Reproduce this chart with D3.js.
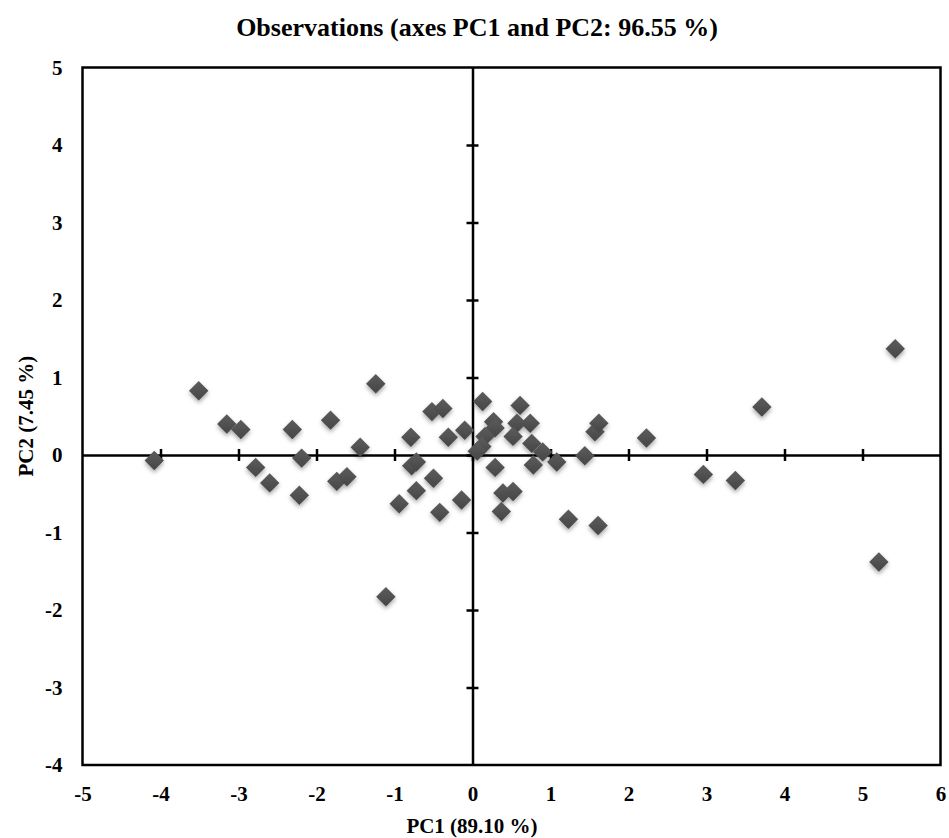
<!DOCTYPE html>
<html>
<head>
<meta charset="utf-8">
<script src="https://cdn.jsdelivr.net/npm/d3@7"></script>
<style>
  html, body { margin: 0; padding: 0; background: #fff; }
  svg { display: block; }
  text { font-family: "Liberation Serif", "Times New Roman", serif; font-weight: bold; fill: #000; }
</style>
</head>
<body>
<svg id="chart" width="949" height="838"></svg>
<script>
// PCA observation scores on the first two components
const pc1 = [-4.08, -3.51, -3.15, -2.97, -2.78, -2.60, -2.31, -2.19, -2.22, -1.82,
             -1.44, -1.24, -1.74, -1.61, -0.94, -1.11, -0.79, -0.52, -0.38, -0.31,
             -0.10, -0.78, -0.72, -0.50, -0.72, -0.42, -0.14, 0.13, 0.61, 0.27,
             0.29, 0.57, 0.74, 0.52, 0.16, 0.12, 0.06, 0.76, 0.90, 0.78,
             1.08, 0.29, 0.39, 0.52, 0.37, 1.23, 1.61, 1.44, 1.57, 1.62,
             2.23, 2.96, 3.37, 3.71, 5.42, 5.21];
const pc2 = [-0.07, 0.83, 0.40, 0.33, -0.16, -0.36, 0.33, -0.04, -0.52, 0.45,
             0.10, 0.92, -0.34, -0.28, -0.63, -1.83, 0.23, 0.56, 0.60, 0.23,
             0.32, -0.14, -0.09, -0.30, -0.46, -0.74, -0.58, 0.69, 0.64, 0.43,
             0.35, 0.41, 0.41, 0.24, 0.24, 0.11, 0.05, 0.15, 0.04, -0.13,
             -0.09, -0.16, -0.49, -0.47, -0.73, -0.83, -0.91, -0.01, 0.30, 0.41,
             0.22, -0.25, -0.33, 0.62, 1.37, -1.38];
const xTicks = [-5, -4, -3, -2, -1, 0, 1, 2, 3, 4, 5, 6];
const yTicks = [-4, -3, -2, -1, 0, 1, 2, 3, 4, 5];
const titleText = "Observations (axes PC1 and PC2: 96.55 %)";
const xTitle = "PC1 (89.10 %)";
const yTitle = "PC2 (7.45 %)";

const points = pc1.map((v, i) => ({ x: v, y: pc2[i] }));
const fmt = d => String(d); // plain hyphen-minus for negatives

const svg = d3.select("#chart");
const x = d3.scaleLinear().domain([-5, 6]).range([82.5, 940.5]);
const y = d3.scaleLinear().domain([-4, 5]).range([765, 67.5]);

// soft drop shadow under the markers
const defs = svg.append("defs");
const f = defs.append("filter").attr("id", "shadow")
  .attr("x", "-50%").attr("y", "-50%").attr("width", "200%").attr("height", "200%");
f.append("feDropShadow").attr("dx", 0).attr("dy", 2.5).attr("stdDeviation", 2)
  .attr("flood-color", "#000").attr("flood-opacity", 0.35);
const g = defs.append("linearGradient").attr("id", "mk").attr("x1", 0).attr("y1", 0).attr("x2", 0).attr("y2", 1);
g.append("stop").attr("offset", "0%").attr("stop-color", "#5c5c5c");
g.append("stop").attr("offset", "100%").attr("stop-color", "#464646");

// title
svg.append("text").attr("x", 477).attr("y", 36).attr("text-anchor", "middle")
  .style("font-size", "26px").text(titleText);

// frame
svg.append("rect")
  .attr("x", x(-5)).attr("y", y(5))
  .attr("width", x(6) - x(-5)).attr("height", y(-4) - y(5))
  .attr("fill", "none").attr("stroke", "#000").attr("stroke-width", 2.5);

// zero axes with crossing ticks
const xAxisG = svg.append("g").attr("transform", `translate(0,${y(0)})`)
  .call(d3.axisBottom(x).tickValues(xTicks.filter(t => t > -5 && t < 6))
    .tickSizeInner(6).tickSizeOuter(0).tickFormat(""));
xAxisG.select(".domain").attr("stroke-width", 2.5);
xAxisG.selectAll(".tick line").attr("y1", -6).attr("y2", 6).attr("stroke-width", 2.5);

const yAxisG = svg.append("g").attr("transform", `translate(${x(0)},0)`)
  .call(d3.axisLeft(y).tickValues(yTicks.filter(t => t > -4 && t < 5))
    .tickSizeInner(6).tickSizeOuter(0).tickFormat(""));
yAxisG.select(".domain").attr("stroke-width", 2.5);
yAxisG.selectAll(".tick line").attr("x1", -6).attr("x2", 6).attr("stroke-width", 2.5);

// tick labels outside the frame
const bottomAxis = svg.append("g").attr("transform", `translate(0,${y(-4)})`)
  .call(d3.axisBottom(x).tickValues(xTicks).tickSize(0).tickPadding(21).tickFormat(fmt));
bottomAxis.select(".domain").remove();
bottomAxis.selectAll("text").style("font-size", "21px")
  .style("font-family", "'Liberation Serif', serif").style("font-weight", "bold");

const leftAxis = svg.append("g").attr("transform", `translate(${x(-5)},0)`)
  .call(d3.axisLeft(y).tickValues(yTicks).tickSize(0).tickPadding(20).tickFormat(fmt));
leftAxis.select(".domain").remove();
leftAxis.selectAll("text").style("font-size", "21px")
  .style("font-family", "'Liberation Serif', serif").style("font-weight", "bold");

// axis titles
svg.append("text").attr("x", 472).attr("y", 833).attr("text-anchor", "middle")
  .style("font-size", "21px").text(xTitle);
svg.append("text").attr("transform", `translate(33,${y(0.5)}) rotate(-90)`)
  .attr("text-anchor", "middle").style("font-size", "21px").text(yTitle);

// observation markers
const diamond = d3.symbol().type(d3.symbolDiamond2).size(240);
svg.append("g").attr("filter", "url(#shadow)")
  .selectAll("path").data(points).join("path")
  .attr("d", diamond)
  .attr("transform", d => `translate(${x(d.x)},${y(d.y)})`)
  .attr("fill", "url(#mk)");
</script>
</body>
</html>
